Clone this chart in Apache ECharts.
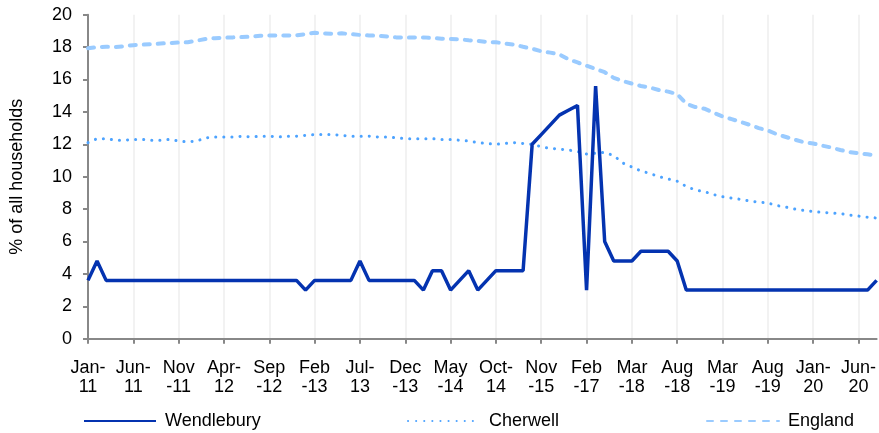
<!DOCTYPE html>
<html>
<head>
<meta charset="utf-8">
<script src="https://cdn.jsdelivr.net/npm/echarts@6/dist/echarts.min.js"></script>
<style>
html,body{margin:0;padding:0;background:#fff;}
#chart{width:879px;height:433px;}
</style>
</head>
<body>
<div id="chart"></div>
<script>
var categories = [
 "Jan-11","Feb-11","Mar-11","Apr-11","May-11","Jun-11","Jul-11","Aug-11","Sep-11","Oct-11","Nov-11","Dec-11",
 "Jan-12","Feb-12","Mar-12","Apr-12","May-12","Jun-12","Jul-12","Aug-12","Sep-12","Oct-12","Nov-12","Dec-12",
 "Jan-13","Feb-13","Mar-13","Apr-13","May-13","Jun-13","Jul-13","Aug-13","Sep-13","Oct-13","Nov-13","Dec-13",
 "Jan-14","Feb-14","Mar-14","Apr-14","May-14","Jun-14","Jul-14","Aug-14","Sep-14","Oct-14",
 "Jan-15","Apr-15","Jul-15","Oct-15","Nov-15","Feb-16","May-16","Aug-16","Nov-16","Feb-17",
 "May-17","Aug-17","Nov-17","Feb-18","Mar-18","Apr-18","May-18","Jun-18","Jul-18","Aug-18",
 "Oct-18","Nov-18","Dec-18","Feb-19","Mar-19","Apr-19","May-19","Jun-19","Jul-19","Aug-19",
 "Sep-19","Oct-19","Nov-19","Dec-19","Jan-20","Feb-20","Mar-20","Apr-20","May-20","Jun-20","Jul-20","Aug-20"
];
var tickLabels = ["Jan-\n11","Jun-\n11","Nov\n-11","Apr-\n12","Sep\n-12","Feb\n-13","Jul-\n13","Dec\n-13","May\n-14","Oct-\n14","Nov\n-15","Feb\n-17","Mar\n-18","Aug\n-18","Mar\n-19","Aug\n-19","Jan-\n20","Jun-\n20"];
var yTicks = [0,2,4,6,8,10,12,14,16,18,20];

var wendlebury = [
 3.6,4.8,3.6,3.6,3.6,3.6,3.6,3.6,3.6,3.6,3.6,3.6,
 3.6,3.6,3.6,3.6,3.6,3.6,3.6,3.6,3.6,3.6,3.6,3.6,
 3.0,3.6,3.6,3.6,3.6,3.6,4.8,3.6,3.6,3.6,3.6,3.6,
 3.6,3.0,4.2,4.2,3.0,3.6,4.2,3.0,3.6,4.2,
 4.2,4.2,4.2,12.0,12.6,13.2,13.8,14.1,14.4,3.0,
 15.6,6.0,4.8,4.8,4.8,5.4,5.4,5.4,5.4,4.8,
 3.0,3.0,3.0,3.0,3.0,3.0,3.0,3.0,3.0,3.0,
 3.0,3.0,3.0,3.0,3.0,3.0,3.0,3.0,3.0,3.0,3.0,3.6
];
var cherwell = [
 12.1,12.35,12.35,12.25,12.25,12.3,12.3,12.25,12.25,12.3,12.2,12.15,
 12.2,12.4,12.45,12.45,12.45,12.5,12.45,12.5,12.5,12.45,12.5,12.5,
 12.55,12.6,12.6,12.6,12.55,12.5,12.5,12.5,12.45,12.45,12.4,12.35,
 12.35,12.35,12.35,12.3,12.3,12.25,12.2,12.1,12.05,12.0,
 12.05,12.1,12.05,12.0,11.85,11.75,11.7,11.65,11.55,11.4,
 11.45,11.5,11.3,10.85,10.6,10.35,10.2,10.0,9.86,9.72,
 9.4,9.18,9.08,8.9,8.76,8.68,8.6,8.5,8.43,8.38,
 8.22,8.12,8.0,7.92,7.85,7.8,7.76,7.72,7.63,7.57,7.5,7.45
];
var england = [
 17.93,18.0,18.02,18.0,18.05,18.12,18.15,18.18,18.22,18.25,18.28,18.3,
 18.4,18.5,18.55,18.58,18.6,18.62,18.64,18.7,18.72,18.72,18.72,18.73,
 18.8,18.88,18.85,18.82,18.85,18.8,18.75,18.72,18.7,18.65,18.6,18.58,
 18.6,18.6,18.56,18.52,18.5,18.48,18.42,18.38,18.32,18.3,
 18.22,18.15,18.02,17.9,17.74,17.66,17.55,17.25,17.05,16.85,
 16.65,16.45,16.1,15.9,15.75,15.6,15.5,15.35,15.25,15.1,
 14.5,14.3,14.2,13.95,13.72,13.55,13.38,13.2,13.0,12.85,
 12.62,12.45,12.28,12.12,12.05,11.92,11.8,11.65,11.52,11.45,11.38,11.3
];

var FONT = '"Liberation Sans", Arial, sans-serif';
var chart = echarts.init(document.getElementById('chart'), null, {renderer:'canvas'});
var legendText = {fontFamily:FONT, fontSize:18, color:'#000', padding:[0,0,0,4]};
var legendBase = {top:412, padding:0, itemWidth:72, itemHeight:20, itemStyle:{opacity:0}, textStyle:legendText};
var option = {
  animation:false,
  backgroundColor:'#fff',
  grid:{left:88, right:0, top:14.7, bottom:94.3, containLabel:false},
  legend:[
    Object.assign({data:['Wendlebury'], left:83}, legendBase),
    Object.assign({data:['Cherwell'], left:407}, legendBase),
    Object.assign({data:['England'], left:706}, legendBase)
  ],
  xAxis:{
    type:'category', data:categories, boundaryGap:false,
    axisLine:{lineStyle:{color:'#888', width:2}},
    axisTick:{show:true, interval:4, length:5, lineStyle:{color:'#888', width:2}},
    splitLine:{show:true, interval:4, lineStyle:{color:'#eeeeee', width:1.5}},
    axisLabel:{interval:4, margin:20, fontFamily:FONT, fontSize:18, color:'#000', lineHeight:19,
      formatter:function(v, i){ return tickLabels[Math.round(i/5)] || ''; }}
  },
  yAxis:{
    type:'value', min:yTicks[0], max:yTicks[yTicks.length-1], interval:2,
    name:'% of all households', nameLocation:'middle', nameGap:62, nameRotate:90,
    nameTextStyle:{fontFamily:FONT, fontSize:18, color:'#000'},
    axisLine:{show:true, lineStyle:{color:'#888', width:2}},
    axisTick:{show:true, length:5, lineStyle:{color:'#888', width:2}},
    splitLine:{show:false},
    axisLabel:{margin:16, fontFamily:FONT, fontSize:18, color:'#000'}
  },
  series:[
    {name:'Wendlebury', type:'line', data:wendlebury, symbol:'none', z:5,
     lineStyle:{color:'#0433b0', width:3.5}, itemStyle:{color:'#0433b0'}},
    {name:'Cherwell', type:'line', data:cherwell, symbol:'none', z:3,
     lineStyle:{color:'#4da3ff', width:3, type:[0.1,8], cap:'round'}, itemStyle:{color:'#4da3ff'}},
    {name:'England', type:'line', data:england, symbol:'none', z:2,
     lineStyle:{color:'#9acbff', width:4, type:[6,8], cap:'round'}, itemStyle:{color:'#9acbff'}}
  ]
};
chart.setOption(option);
</script>
</body>
</html>
